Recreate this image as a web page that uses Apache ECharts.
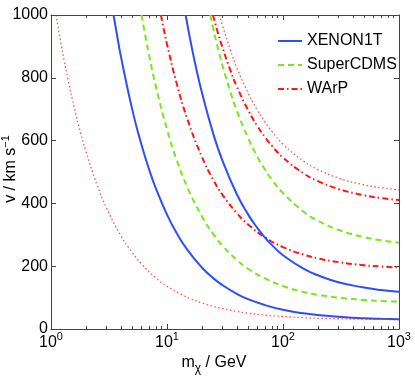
<!DOCTYPE html>
<html>
<head>
<meta charset="utf-8">
<script src="https://cdn.jsdelivr.net/npm/echarts@6/dist/echarts.min.js"></script>
<style>
  html, body { margin: 0; padding: 0; background: #fff; }
  #chart { width: 415px; height: 383px; }
</style>
</head>
<body>
<div id="chart"></div>
<script>
// [m_chi (GeV), v_min (km/s)]
const warpDotLow = [[1.105, 1000], [1.2, 923], [1.3, 854], [1.4, 795], [1.6, 700], [1.8, 625], [2, 566], [2.5, 458], [3, 387], [4, 297], [5, 244], [6, 208], [8, 163], [10, 136], [13, 112], [16, 96], [20, 83], [25, 72], [30, 65], [40, 56], [50, 50.5], [70, 44], [100, 40], [150, 36], [200, 34], [300, 32.6], [500, 31.1], [700, 30.5], [1000, 30.1]]
const xenonLow = [[3.46, 1000], [3.7, 938], [4, 869], [5, 701], [6, 589], [7, 509], [8, 449], [10, 364], [12, 308], [15, 252], [20, 196], [25, 162], [30, 140], [40, 112], [50, 95], [70, 76], [100, 61], [150, 50], [200, 44.4], [300, 38.8], [500, 34.3], [700, 32.4], [1000, 31]]
const cdmsLow = [[6.03, 1000], [6.5, 934], [7, 873], [8, 774], [10, 636], [12, 543], [15, 451], [20, 359], [25, 303], [30, 266], [40, 220], [50, 192], [70, 161], [100, 137], [150, 118], [200, 109], [300, 100], [500, 92.6], [700, 89.4], [1000, 87]]
const warpLow = [[8.86, 1000], [9.4, 953], [10, 907], [12, 788], [15, 668], [20, 548], [25, 476], [30, 428], [40, 369], [50, 333], [70, 292], [100, 261], [150, 237], [200, 225], [300, 213], [500, 203], [700, 199], [1000, 196]]
const xenonHigh = [[14.47, 1000], [15.2, 957], [16, 914], [18, 824], [20, 753], [25, 623], [30, 537], [40, 429], [50, 365], [60, 322], [70, 291], [80, 268], [100, 235], [150, 192], [200, 171], [300, 149], [500, 132], [700, 124], [1000, 119]]
const cdmsHigh = [[23.6, 1000], [25, 958], [27, 906], [30, 841], [35, 758], [40, 695], [50, 608], [60, 549], [70, 508], [80, 476], [100, 433], [150, 374], [200, 345], [300, 316], [500, 292.5], [700, 282.5], [1000, 275]]
const warpHigh = [[24.9, 1000], [27, 953], [30, 898], [35, 826], [40, 772], [50, 697], [60, 647], [70, 611], [80, 584], [100, 546], [150, 496], [200, 471], [300, 446], [500, 426], [700, 417], [1000, 411]]
const warpDotHigh = [[28.3, 1000], [30, 968], [35, 891], [40, 832], [50, 752], [60, 697], [70, 659], [80, 630], [100, 589], [150, 535], [200, 508], [300, 481], [500, 459], [700, 450], [1000, 443]]

const legendNames = ['XENON1T', 'SuperCDMS', 'WArP']
const minorTicks = [2, 3, 4, 5, 6, 7, 8, 9, 20, 30, 40, 50, 60, 70, 80, 90, 200, 300, 400, 500, 600, 700, 800, 900]

const FONT = '"Liberation Sans", Arial, Helvetica, sans-serif'
const AXIS_COLOR = '#444'
const BLUE = '#2f4ff5'
const GREEN = '#77e81c'
const RED = '#ff1616'

function curve(name, data, color, type, width, opacity) {
  return {
    name,
    type: 'line',
    data,
    symbol: 'none',
    smooth: 0.5,
    lineStyle: { color, type, width, opacity: opacity || 1 },
    itemStyle: { color },
    z: 3,
  }
}

function logAxis(position, extra) {
  return Object.assign({
    type: 'log',
    logBase: 10,
    min: 1,
    max: 1000,
    position,
    axisLine: { show: true, lineStyle: { color: AXIS_COLOR, width: 1 } },
    axisTick: { show: true, inside: true, length: 5, lineStyle: { color: AXIS_COLOR } },
    axisLabel: { show: false },
    splitLine: { show: false },
    minorTick: { show: false },
  }, extra)
}

const chart = echarts.init(document.getElementById('chart'), null, { renderer: 'canvas' })

chart.setOption({
  animation: false,
  backgroundColor: '#fff',
  textStyle: { fontFamily: FONT },
  grid: { left: 51, right: 16, top: 15, bottom: 54, containLabel: false, outerBoundsMode: 'none' },
  legend: {
    data: legendNames,
    orient: 'vertical',
    left: 272,
    top: 28,
    itemWidth: 24,
    itemHeight: 14,
    itemGap: 8,
    itemStyle: { opacity: 0 },
    textStyle: { fontFamily: FONT, fontSize: 16, color: '#000', lineHeight: 16 },
  },
  xAxis: [
    logAxis('bottom', {
      name: '{m|m}{sub|χ}{t| / GeV}',
      nameLocation: 'middle',
      nameGap: 22,
      nameMoveOverlap: false,
      nameTextStyle: {
        padding: [0, 22, 0, 0],
        rich: {
          m: { fontFamily: FONT, fontSize: 16, color: '#000', lineHeight: 24 },
          t: { fontFamily: FONT, fontSize: 16, color: '#000', lineHeight: 24 },
          sub: { fontFamily: FONT, fontSize: 12, color: '#000', lineHeight: 12, verticalAlign: 'bottom' },
        },
      },
      axisLabel: {
        show: true,
        margin: 2,
        formatter: (v) => '{b|10}{s|' + Math.round(Math.log10(v)) + '}',
        rich: {
          b: { fontFamily: FONT, fontSize: 16, color: '#000', lineHeight: 24 },
          s: { fontFamily: FONT, fontSize: 11, color: '#000', lineHeight: 11, verticalAlign: 'top' },
        },
      },
    }),
    logAxis('bottom', {
      axisLine: { show: false },
      axisTick: { show: true, inside: true, length: 3, customValues: minorTicks, lineStyle: { color: AXIS_COLOR } },
    }),
    logAxis('top'),
    logAxis('top', {
      axisLine: { show: false },
      axisTick: { show: true, inside: true, length: 3, customValues: minorTicks, lineStyle: { color: AXIS_COLOR } },
    }),
  ],
  yAxis: [
    {
      type: 'value',
      min: 0,
      max: 1000,
      interval: 200,
      position: 'left',
      name: '{t|v / km s}{s|−1}',
      nameLocation: 'middle',
      nameGap: 29,
      nameRotate: 90,
      nameMoveOverlap: false,
      nameTextStyle: {
        padding: [0, 0, 0, 6],
        rich: {
          t: { fontFamily: FONT, fontSize: 16, color: '#000', lineHeight: 22 },
          s: { fontFamily: FONT, fontSize: 11, color: '#000', lineHeight: 11, verticalAlign: 'top' },
        },
      },
      axisLine: { show: true, lineStyle: { color: AXIS_COLOR, width: 1 } },
      axisTick: { show: true, inside: true, length: 5, lineStyle: { color: AXIS_COLOR } },
      axisLabel: { fontFamily: FONT, fontSize: 16, color: '#000', margin: 3, formatter: (v) => String(v) },
      splitLine: { show: false },
    },
    {
      type: 'value',
      min: 0,
      max: 1000,
      interval: 200,
      position: 'right',
      axisLine: { show: true, lineStyle: { color: AXIS_COLOR, width: 1 } },
      axisTick: { show: true, inside: true, length: 5, lineStyle: { color: AXIS_COLOR } },
      axisLabel: { show: false },
      splitLine: { show: false },
    },
  ],
  series: [
    curve('XENON1T', xenonLow, BLUE, 'solid', 2),
    curve('SuperCDMS', cdmsLow, GREEN, [6, 4], 2),
    curve('WArP', warpLow, RED, [6, 3, 1.5, 3], 2),
    curve('XENON1T', xenonHigh, BLUE, 'solid', 2),
    curve('SuperCDMS', cdmsHigh, GREEN, [6, 4], 2),
    curve('WArP', warpHigh, RED, [6, 3, 1.5, 3], 2),
    curve('WArP bound', warpDotLow, RED, [1.5, 2.5], 1.3, 0.75),
    curve('WArP bound', warpDotHigh, RED, [1.5, 2.5], 1.3, 0.75),
  ],
})
</script>
</body>
</html>
